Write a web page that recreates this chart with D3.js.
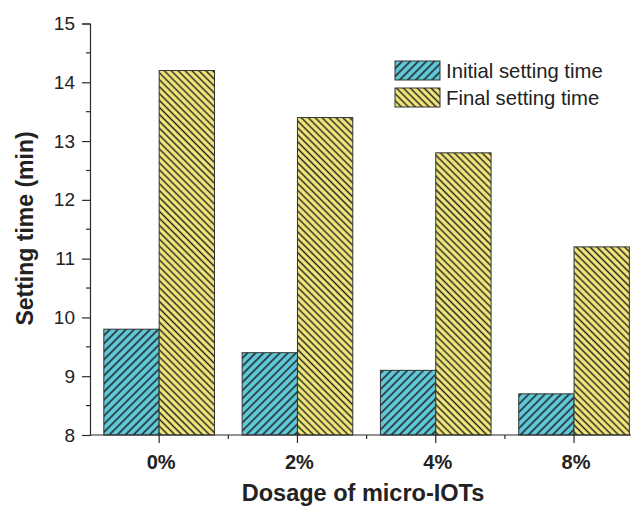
<!DOCTYPE html>
<html>
<head>
<meta charset="utf-8">
<script src="https://cdn.jsdelivr.net/npm/d3@7"></script>
<style>
  html, body { margin: 0; padding: 0; background: #fff; }
  svg { display: block; font-family: "Liberation Sans", Arial, sans-serif; }
</style>
</head>
<body>
<svg id="chart" width="632" height="506"></svg>
<script>
const categories = ["0%", "2%", "4%", "8%"];
const initialSetting = [9.8, 9.4, 9.1, 8.7];
const finalSetting = [14.2, 13.4, 12.8, 11.2];
const seriesNames = ["Initial setting time", "Final setting time"];
const yTicks = [8, 9, 10, 11, 12, 13, 14, 15];
const yMinorTicks = [8.5, 9.5, 10.5, 11.5, 12.5, 13.5, 14.5];

(function () {
const svg = d3.select("#chart");
const ink = "#2b2b2b";

const mLeft = 90, mBottom = 435, mTop = 23.5, axisRight = 631;
const step = 138.3;

const x = d3.scaleBand().domain(categories).range([mLeft, mLeft + step * categories.length]).padding(0);
const y = d3.scaleLinear().domain([8, 15]).range([mBottom, mTop]);
const barW = x.bandwidth() * 0.4;

// hatch patterns
const defs = svg.append("defs");
function hatch(id, fill, angle, spacing) {
  const p = defs.append("pattern").attr("id", id)
    .attr("patternUnits", "userSpaceOnUse")
    .attr("width", spacing).attr("height", spacing)
    .attr("patternTransform", `rotate(${angle})`);
  p.append("rect").attr("width", spacing).attr("height", spacing).attr("fill", fill);
  p.append("line").attr("x1", spacing / 2).attr("x2", spacing / 2)
    .attr("y1", 0).attr("y2", spacing)
    .attr("stroke", "#222").attr("stroke-width", 1.5);
}
hatch("hInit", "#5ec8d8", 45, 5.7);
hatch("hFinal", "#f5eb7c", -45, 4.9);

const series = [
  { name: seriesNames[0], values: initialSetting, fill: "url(#hInit)", offset: -barW },
  { name: seriesNames[1], values: finalSetting, fill: "url(#hFinal)", offset: 0 }
];

// bars
series.forEach(s => {
  svg.append("g").selectAll("rect").data(s.values).join("rect")
    .attr("x", (d, i) => x(categories[i]) + x.bandwidth() / 2 + s.offset)
    .attr("y", d => y(d))
    .attr("width", barW)
    .attr("height", d => y(8) - y(d))
    .attr("fill", s.fill)
    .attr("stroke", "#333")
    .attr("stroke-width", 1);
});

// Y axis
const yAxis = svg.append("g").attr("transform", `translate(${mLeft},0)`)
  .call(d3.axisLeft(y).tickValues(yTicks).tickSize(8).tickPadding(7).tickFormat(d3.format("d")));
yAxis.select(".domain").attr("stroke", ink).attr("stroke-width", 1.2);
yAxis.selectAll(".tick line").attr("stroke", ink).attr("stroke-width", 1.2);
yAxis.selectAll(".tick text").attr("fill", "#222").attr("font-size", 19)
  .attr("font-family", "Liberation Sans, Arial, sans-serif");
svg.append("g").selectAll("line").data(yMinorTicks).join("line")
  .attr("x1", mLeft - 4).attr("x2", mLeft).attr("y1", d => y(d)).attr("y2", d => y(d))
  .attr("stroke", ink).attr("stroke-width", 1.2);

// X axis
const xAxis = svg.append("g").attr("transform", `translate(0,${mBottom})`)
  .call(d3.axisBottom(x).tickSize(8).tickPadding(12).tickSizeOuter(0));
xAxis.select(".domain").remove();
xAxis.selectAll(".tick line").attr("stroke", ink).attr("stroke-width", 1.2);
xAxis.selectAll(".tick text").attr("fill", "#222").attr("font-size", 20)
  .attr("font-weight", "bold").attr("dx", 2)
  .attr("font-family", "Liberation Sans, Arial, sans-serif");
svg.append("line").attr("x1", mLeft).attr("x2", axisRight).attr("y1", mBottom).attr("y2", mBottom)
  .attr("stroke", ink).attr("stroke-width", 1.2);
// minor x ticks at band edges
svg.append("g").selectAll("line").data(categories.slice(1)).join("line")
  .attr("x1", d => x(d)).attr("x2", d => x(d)).attr("y1", mBottom).attr("y2", mBottom + 4)
  .attr("stroke", ink).attr("stroke-width", 1.2);

// axis titles
svg.append("text").attr("x", 363).attr("y", 501).attr("text-anchor", "middle")
  .attr("font-size", 23.5).attr("font-weight", "bold").attr("fill", "#222")
  .text("Dosage of micro-IOTs");
svg.append("text").attr("transform", `translate(33,228.5) rotate(-90)`).attr("text-anchor", "middle")
  .attr("font-size", 23).attr("font-weight", "bold").attr("fill", "#222")
  .text("Setting time (min)");

// legend
const legend = svg.append("g");
series.forEach((s, i) => {
  const ly = 61 + i * 27;
  legend.append("rect").attr("x", 395).attr("y", ly).attr("width", 45).attr("height", 19)
    .attr("fill", s.fill).attr("stroke", "#333").attr("stroke-width", 1);
  legend.append("text").attr("x", 446).attr("y", ly + 16.5)
    .attr("font-size", 20.3).attr("fill", "#222").text(s.name);
});
})();
</script>
</body>
</html>
